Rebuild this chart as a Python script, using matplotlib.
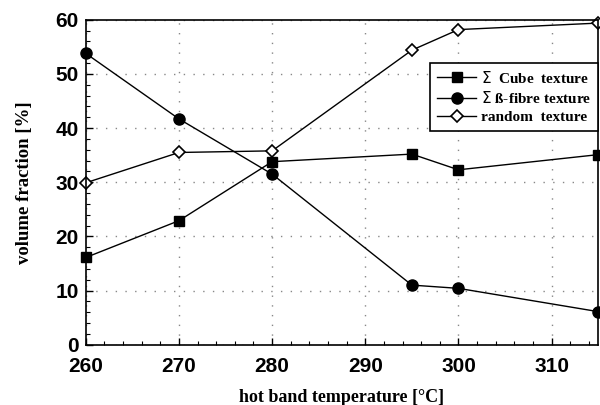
import numpy as np
import matplotlib.pyplot as plt
from matplotlib.ticker import MultipleLocator

temps = [260, 270, 280, 295, 300, 315]
cube = [16.1, 22.9, 33.8, 35.2, 32.3, 35.1]
beta_fibre = [53.8, 41.7, 31.5, 11.0, 10.4, 6.1]
random_tex = [29.9, 35.5, 35.8, 54.4, 58.2, 59.4]

labels = [r"$\Sigma$  Cube  texture", r"$\Sigma$ ß-fibre texture", "random  texture"]

fig = plt.figure(figsize=(6, 4.05), dpi=100)
ax = fig.add_axes([0.143, 0.149, 0.854, 0.802])

ax.plot(temps, cube, '-s', color='black', lw=1, ms=7, label=labels[0], clip_on=False)
ax.plot(temps, beta_fibre, '-o', color='black', lw=1, ms=8, label=labels[1], clip_on=False)
ax.plot(temps, random_tex, '-D', color='black', mfc='white', lw=1, ms=6, mew=1.2,
        label=labels[2], clip_on=False)

ax.set_xlim(260, 315)
ax.set_ylim(0, 60)
ax.xaxis.set_major_locator(MultipleLocator(10))
ax.xaxis.set_minor_locator(MultipleLocator(2))
ax.yaxis.set_major_locator(MultipleLocator(10))
ax.yaxis.set_minor_locator(MultipleLocator(2))
ax.tick_params(which='both', direction='in', top=False, right=False)
ax.tick_params(which='major', length=5, width=1)
ax.tick_params(which='minor', length=3, width=0.8)
for lab in ax.get_xticklabels() + ax.get_yticklabels():
    lab.set_family('Liberation Sans')
    lab.set_fontweight('bold')
    lab.set_fontsize(15)
ax.tick_params(axis='x', pad=9)
ax.tick_params(axis='y', pad=5)

ax.grid(True, which='major', linestyle=(0, (1, 6)), color='#888888', lw=1)
for s in ax.spines.values():
    s.set_linewidth(1.2)

ax.set_xlabel("hot band temperature [°C]", family='Liberation Serif',
              fontweight='bold', fontsize=13, labelpad=9)
ax.set_ylabel("volume fraction [%]", family='Liberation Serif',
              fontweight='bold', fontsize=13.5, labelpad=16)

leg = ax.legend(loc='upper right', bbox_to_anchor=(1.0, 0.868), borderaxespad=0,
                fancybox=False, edgecolor='black', framealpha=1, handlelength=2.6,
                borderpad=0.45, labelspacing=0.3, handletextpad=0.3,
                prop={'family': 'Liberation Serif', 'weight': 'bold', 'size': 11})
leg.get_frame().set_linewidth(1.2)

fig.savefig('out.png', dpi=100)
